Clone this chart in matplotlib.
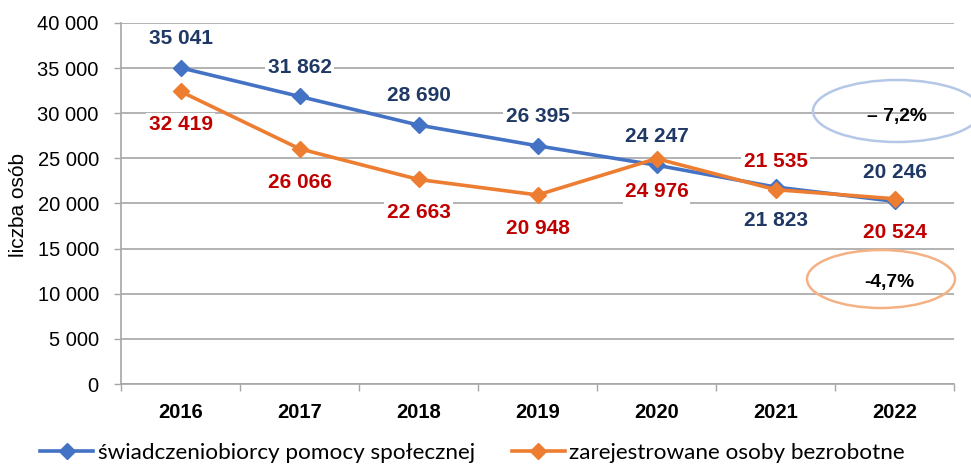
import matplotlib
matplotlib.use("Agg")
import matplotlib.pyplot as plt
from matplotlib.patches import Ellipse
from matplotlib.lines import Line2D

years = ["2016", "2017", "2018", "2019", "2020", "2021", "2022"]
social = [35041, 31862, 28690, 26395, 24247, 21823, 20246]
unemployed = [32419, 26066, 22663, 20948, 24976, 21535, 20524]
# label placement: +1 above point, -1 below
social_pos = [1, 1, 1, 1, 1, -1, 1]
unemp_pos = [-1, -1, -1, -1, -1, 1, -1]
yticks = [0, 5000, 10000, 15000, 20000, 25000, 30000, 35000, 40000]
legend_labels = ["świadczeniobiorcy pomocy społecznej", "zarejestrowane osoby bezrobotne"]
change_social = "– 7,2%"
change_unemp = "-4,7%"

def fmt(v):
    return f"{v:,}".replace(",", " ")

W, H = 971, 465
fig = plt.figure(figsize=(W / 100, H / 100), dpi=100)
ax = fig.add_axes([121 / W, 1 - 384 / H, (954 - 121) / W, (384 - 23) / H])

BLUE = "#4472C4"
ORANGE = "#ED7D31"
NAVY = "#1F3864"
RED = "#C00000"
GRID = "#A6A6A6"

x = list(range(len(years)))
ax.plot(x, social, color=BLUE, lw=2.6, marker="D", ms=8.5, zorder=3)
ax.plot(x, unemployed, color=ORANGE, lw=2.6, marker="D", ms=8.5, zorder=4)

for xi, v, p in zip(x, social, social_pos):
    off = 21 if p > 0 else -24
    ax.annotate(fmt(v), (xi, v), xytext=(0, off), textcoords="offset points",
                ha="center", va="center", fontsize=15, fontweight="bold",
                color=NAVY, family="Liberation Sans", zorder=6,
                bbox=dict(fc="white", ec="none", pad=1.5))
for xi, v, p in zip(x, unemployed, unemp_pos):
    off = 20 if p > 0 else -24
    ax.annotate(fmt(v), (xi, v), xytext=(0, off), textcoords="offset points",
                ha="center", va="center", fontsize=15, fontweight="bold",
                color=RED, family="Liberation Sans", zorder=6,
                bbox=dict(fc="white", ec="none", pad=1.5))

ax.set_ylim(0, 40000)
ax.set_xlim(-0.5, len(years) - 0.5)
ax.set_yticks(yticks)
ax.set_yticklabels([fmt(t) for t in yticks], fontsize=14.5, family="Liberation Sans")
ax.set_xticks(x)
ax.set_xticklabels(years, fontsize=14.5, fontweight="bold", family="Liberation Sans")
ax.set_xticks([i - 0.5 for i in range(len(years) + 1)], minor=True)
ax.tick_params(axis="x", which="major", length=0, pad=14)
ax.tick_params(axis="x", which="minor", length=5, color=GRID, width=1)
ax.tick_params(axis="y", length=5, color=GRID, width=1, pad=11)
ax.grid(axis="y", color=GRID, lw=1.2, zorder=0)
ax.set_axisbelow(True)
for s in ["top", "right"]:
    ax.spines[s].set_visible(False)
for s in ["left", "bottom"]:
    ax.spines[s].set_color(GRID)
    ax.spines[s].set_linewidth(1.2)

fig.text(19 / W, 1 - 205 / H, "liczba osób", rotation=90, ha="center", va="center",
         fontsize=15, family="Liberation Sans")

# ellipses
e1 = Ellipse((897 / W, 1 - 111 / H), 168 / W, 62 / H, transform=fig.transFigure,
             fill=False, ec="#B4C7E7", lw=1.8)
e2 = Ellipse((881 / W, 1 - 279 / H), 148 / W, 58 / H, transform=fig.transFigure,
             fill=False, ec="#F4B183", lw=1.8)
fig.add_artist(e1)
fig.add_artist(e2)
fig.text(896.5 / W, 1 - 117 / H, change_social, ha="center", va="center", fontsize=13.8,
         fontweight="bold", family="Liberation Sans")
fig.text(889.5 / W, 1 - 282 / H, change_unemp, ha="center", va="center", fontsize=13.8,
         fontweight="bold", family="Liberation Sans")

handles = [Line2D([], [], color=BLUE, lw=2.6, marker="D", ms=8.5),
           Line2D([], [], color=ORANGE, lw=2.6, marker="D", ms=8.5)]
fig.legend(handles, legend_labels, loc="center left", bbox_to_anchor=(40 / W, 1 - 453 / H),
           ncol=2, frameon=False, prop={"family": "Lato", "size": 16.2},
           handlelength=2.36, handletextpad=0.2, columnspacing=1.65, borderpad=0,
           borderaxespad=0)

fig.savefig("out.png", dpi=100)
